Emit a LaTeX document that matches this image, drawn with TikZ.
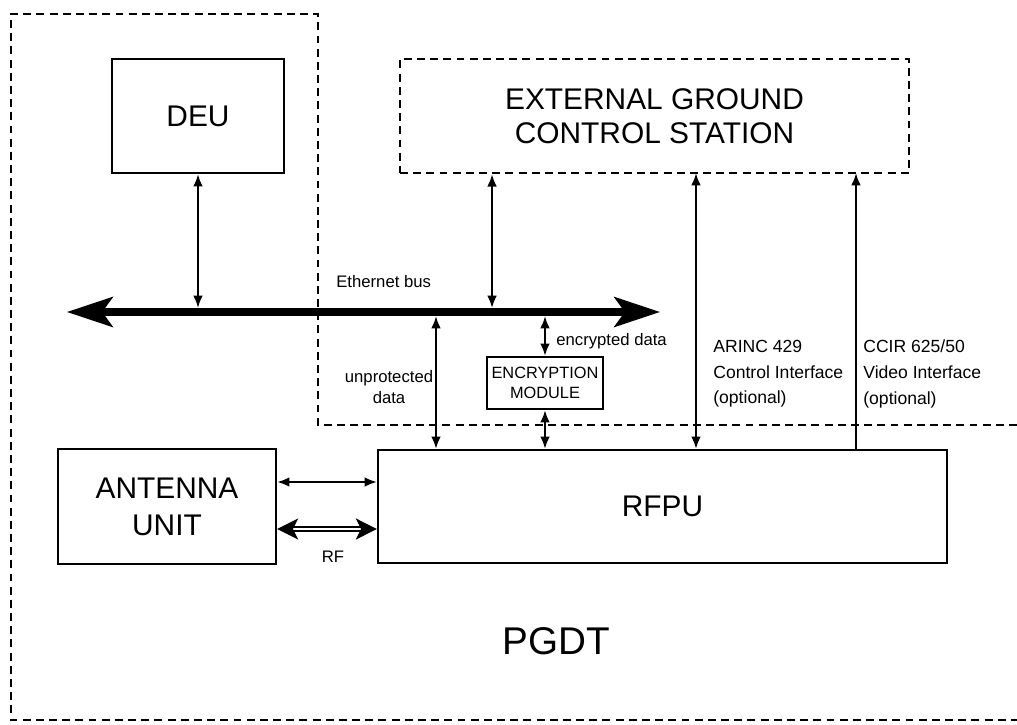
\documentclass[tikz,border=0pt]{standalone}
\usepackage{fontspec}
\setmainfont{Liberation Sans}
\usetikzlibrary{arrows.meta}
\tikzset{
  unit/.style={draw,line width=1.3pt,inner sep=0pt,align=center,font=\fontsize{17}{21}\selectfont},
  extunit/.style={unit,dashed,dash pattern=on 4.5pt off 3pt,line width=1.4pt},
  lbl/.style={font=\fontsize{9.5}{11.5}\selectfont,inner sep=0pt},
  biarrow/.style={line width=1.2pt,{Latex[length=7pt,width=5.5pt]}-{Latex[length=7pt,width=5.5pt]}},
  uparrow/.style={line width=1.2pt,-{Latex[length=7pt,width=5.5pt]}},
  busline/.style={line width=4pt,{Stealth[length=26pt,width=17pt,inset=6pt]}-{Stealth[length=26pt,width=17pt,inset=6pt]}},
  rfline/.style={double,double distance=1.6pt,line width=1pt,{Stealth[length=12pt,width=12pt,inset=3pt]}-{Stealth[length=12pt,width=12pt,inset=3pt]}},
  outline/.style={line width=1.4pt,dash pattern=on 4.5pt off 3pt}
}
\begin{document}
\begin{tikzpicture}[x=0.02cm,y=-0.02cm,>=Latex]
  \useasboundingbox (0,0) rectangle (1017,724);
  \draw[outline] (1017,425) -- (318,425) -- (318,14) -- (11,14) -- (11,720) -- (1017,720);

  \node[unit,minimum width=3.44cm,minimum height=2.28cm] (deu) at (198,116) {DEU};
  \node[extunit,minimum width=10.18cm,minimum height=2.28cm,font=\fontsize{17}{19.5}\selectfont] (egcs) at (654.5,116)
    {EXTERNAL GROUND\\CONTROL STATION};
  \node[unit,minimum width=4.36cm,minimum height=2.3cm] (antenna) at (167,506.5) {ANTENNA\\UNIT};
  \node[unit,minimum width=11.38cm,minimum height=2.26cm] (rfpu) at (662.5,506.5) {RFPU};
  \node[unit,minimum width=2.32cm,minimum height=1.04cm,font=\fontsize{9.3}{11.4}\selectfont] (encmod) at (545,383)
    {ENCRYPTION\\MODULE};

  \coordinate (busL) at (67,312);
  \coordinate (busR) at (660,312);
  \coordinate (bustop) at (0,308);
  \coordinate (busbot) at (0,316);
  \coordinate (unprot) at (436,316);
  \coordinate (arinc) at (696,173);
  \coordinate (ccir) at (856,173);

  \draw[busline] (busL) -- (busR);
  \draw[biarrow] (deu.south) -- (deu.south |- bustop);
  \draw[biarrow] ([xshift=-3.25cm]egcs.south) -- ([xshift=-3.25cm]egcs.south |- bustop);
  \draw[biarrow] (unprot) -- (unprot |- rfpu.north);
  \draw[biarrow] (busbot -| encmod) -- (encmod.north);
  \draw[biarrow] (encmod.south) -- (encmod.south |- rfpu.north);
  \draw[biarrow] (arinc) -- (arinc |- rfpu.north);
  \draw[uparrow] (ccir |- rfpu.north) -- (ccir);
  \draw[biarrow] ([yshift=0.49cm]antenna.east) -- ([yshift=0.49cm]antenna.east -| rfpu.west);
  \draw[rfline] ([yshift=-0.45cm]antenna.east) -- ([yshift=-0.45cm]antenna.east -| rfpu.west);

  \node[lbl,anchor=west] (buslbl) at (336,282) {Ethernet bus};
  \node[lbl,anchor=west] (enclbl) at (556,341) {encrypted data};
  \node[lbl,align=center] (unprotlbl) at (389,387) {unprotected\\data};
  \node[lbl,anchor=west,align=left,font=\fontsize{10}{14.6}\selectfont] (arinclbl) at (713,374)
    {ARINC 429\\Control Interface\\(optional)};
  \node[lbl,anchor=west,align=left,font=\fontsize{10}{14.6}\selectfont] (ccirlbl) at (863,374)
    {CCIR 625/50\\Video Interface\\(optional)};
  \node[lbl] (rflbl) at (333,557) {RF};
  \node[font=\fontsize{22}{26}\selectfont] (pgdt) at (556,641) {PGDT};
\end{tikzpicture}
\end{document}
